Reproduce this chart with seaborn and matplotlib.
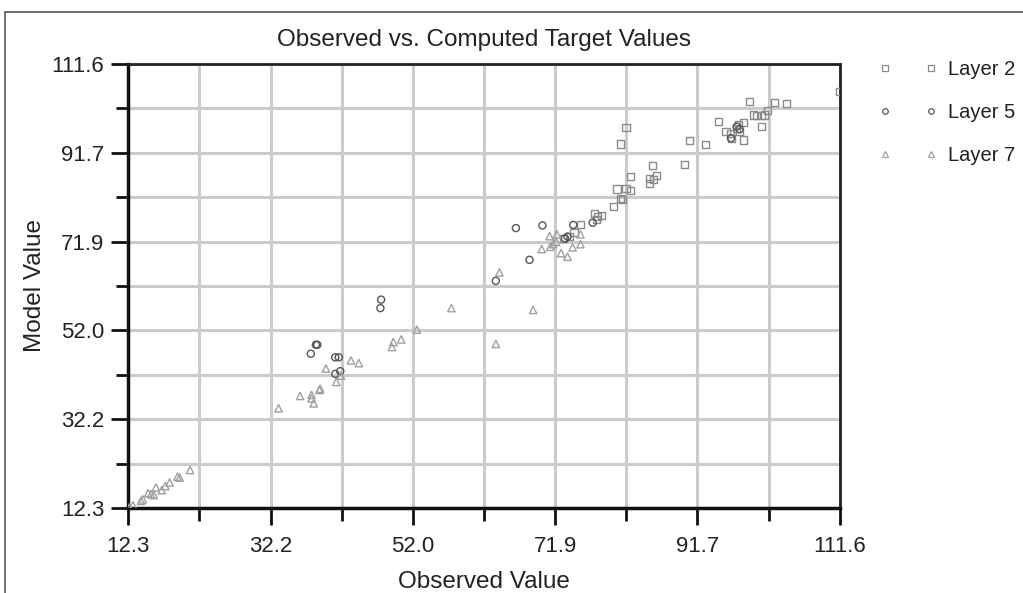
import numpy as np
import matplotlib
matplotlib.use("Agg")
import matplotlib.pyplot as plt
import seaborn as sns
from matplotlib.lines import Line2D
from matplotlib.patches import Rectangle

# ---- data ----
layer2_x = [73.0, 73.9, 74.5, 75.4, 77.4, 78.4, 77.8, 77.6, 80.0, 81.0, 81.3, 80.5, 81.75, 82.4,
            82.4, 81.0, 81.75, 85.0, 85.0, 85.6, 86.0, 85.5, 89.85, 90.6, 92.8, 94.6, 95.7,
            96.3, 96.5, 97.2, 97.5, 97.6, 98.1, 98.1, 99.0, 99.5, 100.0, 100.7, 101.1, 100.7,
            101.5, 102.5, 104.2, 111.5]
layer2_y = [72.6, 73.0, 73.9, 75.75, 78.1, 77.8, 77.4, 76.9, 79.8, 81.6, 81.35, 83.65, 83.8, 83.4,
            86.4, 93.7, 97.4, 84.8, 86.0, 85.7, 86.6, 88.8, 89.2, 94.5, 93.5, 98.7, 96.5,
            96.1, 95.0, 97.2, 98.0, 96.5, 98.5, 94.6, 103.2, 100.2, 100.0, 100.0, 100.2, 97.7,
            101.3, 103.0, 102.8, 105.4]

layer5_x = [38.5, 38.7, 37.8, 41.2, 41.7, 41.2, 41.9, 47.6, 47.5, 63.6, 66.4, 68.3, 70.1,
            73.25, 73.6, 74.4, 77.1, 96.4, 97.2, 97.6]
layer5_y = [48.8, 48.8, 46.8, 46.0, 46.0, 42.3, 42.9, 58.9, 57.0, 63.1, 74.9, 67.8, 75.5,
            72.6, 73.0, 75.6, 76.1, 95.0, 97.6, 97.0]

layer7_x = [12.5, 13.0, 14.1, 14.35, 15.1, 15.5, 15.9, 16.2, 17.0, 17.5, 18.1, 19.2, 19.5, 20.95,
            33.3, 36.3, 37.9, 37.9, 38.2, 39.0, 39.1, 41.35, 42.0, 39.9, 43.4, 44.5, 49.1,
            49.3, 50.4, 52.6, 57.4,
            63.6, 64.1, 68.8, 70.0, 71.1, 71.2, 71.6, 72.1, 72.7, 73.6, 74.3, 75.4, 75.4, 72.0]
layer7_y = [12.4, 12.9, 13.9, 14.25, 15.6, 15.4, 15.2, 16.9, 16.3, 17.2, 18.0, 19.3, 19.1, 20.8,
            34.6, 37.35, 37.6, 36.8, 35.7, 38.7, 39.0, 40.5, 41.9, 43.5, 45.3, 44.7, 48.3,
            49.4, 50.0, 52.2, 57.0,
            49.0, 65.0, 56.6, 70.2, 73.1, 70.7, 71.3, 73.5, 69.3, 68.5, 70.6, 73.5, 71.3, 71.8]

tick_vals = [12.3, 32.2, 52.0, 71.9, 91.7, 111.6]
tick_labels = ["12.3", "32.2", "52.0", "71.9", "91.7", "111.6"]
minor_vals = [22.25, 42.1, 61.95, 81.8, 101.65]

series = [
    ("Layer 2", layer2_x, layer2_y, "s", "#8a8a8a", 26),
    ("Layer 5", layer5_x, layer5_y, "o", "#555555", 26),
    ("Layer 7", layer7_x, layer7_y, "^", "#a0a0a0", 28),
]

# ---- figure ----
sns.set_theme(style="white")
plt.rcParams["font.family"] = ["Liberation Sans", "DejaVu Sans"]

fig = plt.figure(figsize=(10.23, 5.93), dpi=100)
ax = fig.add_axes([128 / 1023, 1 - 508 / 593, 712 / 1023, 444 / 593])

for name, xs, ys, mk, col, sz in series:
    sns.scatterplot(x=xs, y=ys, ax=ax, marker=mk, s=sz, facecolor="none",
                    edgecolor=col, linewidth=1.0, legend=False, zorder=3)

ax.set_xlim(12.3, 111.6)
ax.set_ylim(12.3, 111.6)
ax.set_xticks(tick_vals)
ax.set_xticklabels(tick_labels)
ax.set_yticks(tick_vals)
ax.set_yticklabels(tick_labels)
ax.set_xticks(minor_vals, minor=True)
ax.set_yticks(minor_vals, minor=True)

ax.grid(True, which="both", color="#cbcbcb", linewidth=2.2, zorder=0)
ax.set_axisbelow(True)

ax.tick_params(which="major", direction="out", length=12, width=2, color="#111111",
               labelsize=16, labelcolor="#222222", pad=5, left=True, bottom=True)
ax.tick_params(axis="x", which="major", pad=8)
ax.tick_params(which="minor", direction="out", length=9, width=2, color="#111111",
               left=True, bottom=True)

for side in ["left", "bottom"]:
    ax.spines[side].set_color("#111111")
    ax.spines[side].set_linewidth(2.5)
for side in ["top", "right"]:
    ax.spines[side].set_color("#222222")
    ax.spines[side].set_linewidth(2.0)

ax.set_title("Observed vs. Computed Target Values", fontsize=17.5, color="#222222", pad=13)
ax.set_xlabel("Observed Value", fontsize=17.5, color="#222222", labelpad=10)
ax.set_ylabel("Model Value", fontsize=17.5, color="#222222", labelpad=4)

handles = [Line2D([0], [0], marker=mk, color="none", markerfacecolor="none",
                  markeredgecolor=col, markersize=4, markeredgewidth=0.9, label=name)
           for name, xs, ys, mk, col, sz in series]
fig.legend(handles=handles, loc="upper left", bbox_to_anchor=(861 / 1023, 1 - 42 / 593),
           frameon=False, numpoints=2, handlelength=2.9, handletextpad=0.5,
           labelspacing=1.2, fontsize=14.5, labelcolor="#222222")

fig.patches.append(Rectangle((5 / 1023, -0.1), 1.2, 1.1 - 12 / 593,
                             transform=fig.transFigure, fill=False,
                             edgecolor="#555555", linewidth=1.2))

fig.savefig("out.png", dpi=100)
